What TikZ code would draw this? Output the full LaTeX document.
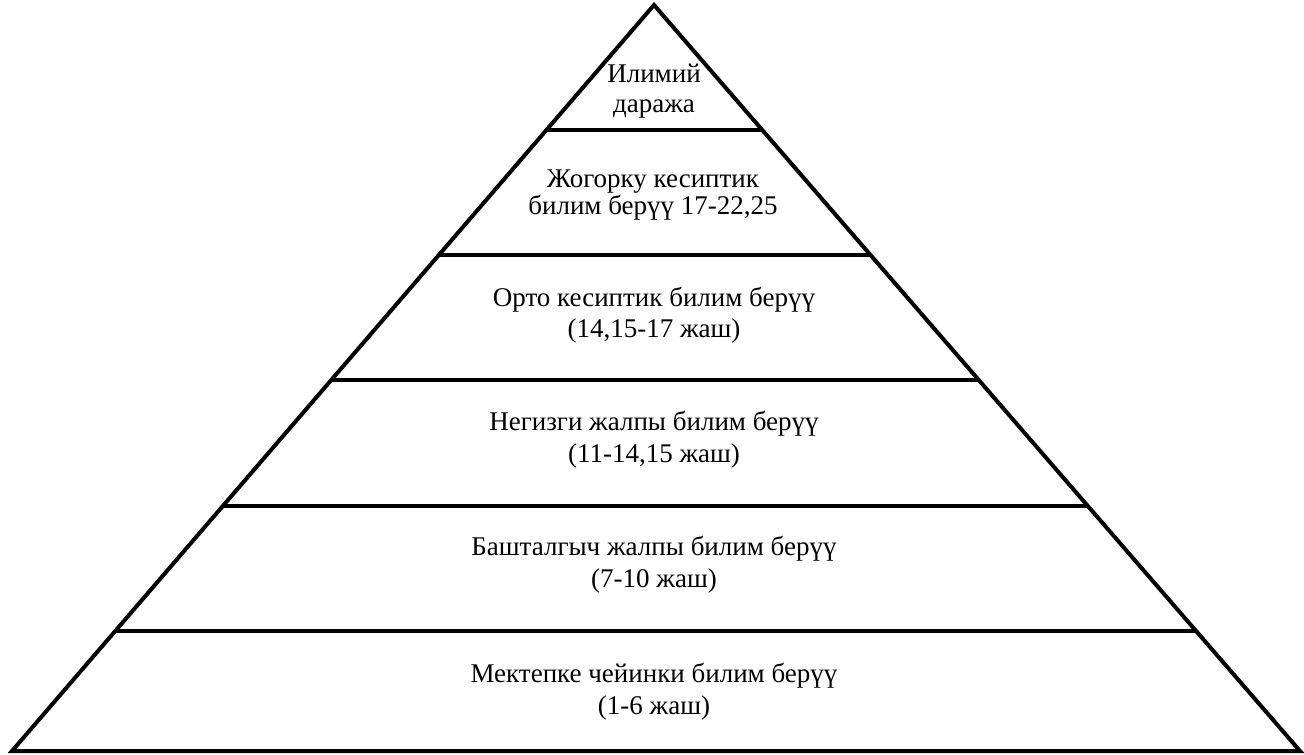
\documentclass[tikz,border=0pt]{standalone}
\usepackage{fontspec}
\setmainfont{Liberation Serif}
\usetikzlibrary{calc}
\begin{document}
\begin{tikzpicture}[x=1pt,y=-1pt,
  edge/.style={line width=4pt,line join=miter},
  tier/.style={line width=4pt},
  lbl/.style={anchor=base,inner sep=0pt,font=\fontsize{27}{30}\selectfont}]
\useasboundingbox (0,0) rectangle (1304,755);
\coordinate (apex) at (654,5);
\coordinate (bl) at (12,751);
\coordinate (br) at (1300,751);
\draw[edge] (apex) -- (bl) -- (br) -- cycle;
\foreach \y/\n in {130/a,255/b,380/c,506/d,631/e}{
  \pgfmathsetmacro\t{(\y-5)/746}
  \coordinate (l\n) at ($(apex)!\t!(bl)$);
  \coordinate (r\n) at ($(apex)!\t!(br)$);
  \draw[tier] (l\n) -- (r\n);
}
\node[lbl] (t1a) at (654,82) {Илимий};
\node[lbl] (t1b) at (654,112) {даража};
\node[lbl] (t2a) at (653,187) {Жогорку кесиптик};
\node[lbl] (t2b) at (653,214) {билим берүү 17-22,25};
\node[lbl] (t3a) at (654,306) {Орто кесиптик билим берүү};
\node[lbl] (t3b) at (654,337) {(14,15-17 жаш)};
\node[lbl] (t4a) at (654,430) {Негизги жалпы билим берүү};
\node[lbl] (t4b) at (654,462) {(11-14,15 жаш)};
\node[lbl] (t5a) at (654,555) {Башталгыч жалпы билим берүү};
\node[lbl] (t5b) at (654,587) {(7-10 жаш)};
\node[lbl] (t6a) at (654,682) {Мектепке чейинки билим берүү};
\node[lbl] (t6b) at (654,714) {(1-6 жаш)};
\end{tikzpicture}
\end{document}
